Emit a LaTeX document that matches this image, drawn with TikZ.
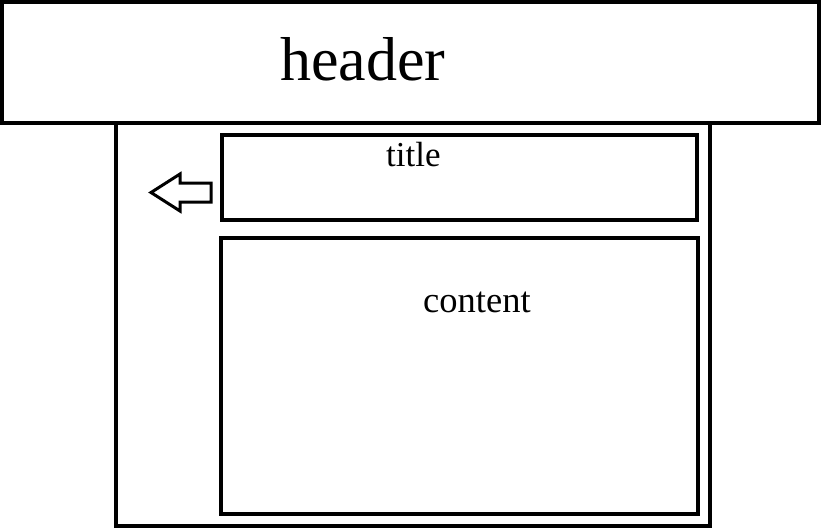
\documentclass[tikz,border=0pt]{standalone}
\usepackage{fontspec}
\setmainfont{Liberation Serif}
\begin{document}
\begin{tikzpicture}[x=1pt,y=-1pt,
  frame/.style={draw=black,line width=4pt,inner sep=0pt,outer sep=0pt,anchor=north west},
  lbl/.style={inner sep=0pt,anchor=base west,text=black}]
\useasboundingbox (0,0) rectangle (821,528);
% page header band
\node[frame,minimum width=817pt,minimum height=121pt] (header) at (2,2) {};
% main panel below the header
\node[frame,minimum width=594pt,minimum height=402.5pt] (panel) at (116,123) {};
% title strip and content area
\node[frame,minimum width=475pt,minimum height=85pt] (titlebox) at (222,135) {};
\node[frame,minimum width=477pt,minimum height=275.5pt] (contentbox) at (221,238) {};
% labels
\node[lbl,font=\fontsize{62}{62}\selectfont] (headertxt) at (280,80) {header};
\node[lbl,font=\fontsize{35}{35}\selectfont] (titletxt) at (386,166) {title};
\node[lbl,font=\fontsize{36.5}{36.5}\selectfont] (contenttxt) at (423,312) {content};
% hollow back arrow beside the title strip
\draw[line width=3pt,line join=miter]
  (151,192.5) -- (180,174) -- (180,183) -- (211,183) -- (211,202)
  -- (180,202) -- (180,211) -- cycle;
\end{tikzpicture}
\end{document}
